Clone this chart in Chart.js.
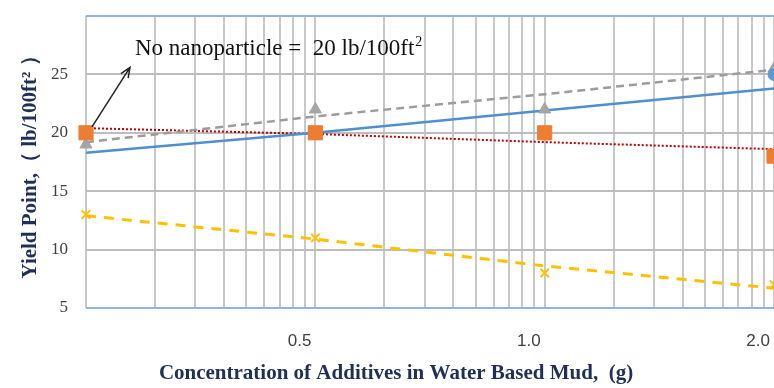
<!DOCTYPE html>
<html>
<head>
<meta charset="utf-8">
<script src="https://cdn.jsdelivr.net/npm/chart.js@4"></script>
<style>
    html, body { margin: 0; padding: 0; background: white; }
    #box { width: 774px; height: 388px; }
</style>
</head>
<body>
<div id="box"><canvas id="yield-chart"></canvas></div>
<script>
const concentrations = ['0', '0.5', '1.0', '2.0']

// markers
const blueCircles = [20, 20, 20, 25]
const orangeSquares = [20, 20, 20, 18]
const grayTriangles = [19, 22, 22, 25.5]
const yellowCrosses = [13, 11, 8, 7]

// trend lines
const trendBlue = [18.3, 20.0, 21.9, 23.8]
const trendGray = [19.2, 21.4, 23.3, 25.4]
const trendRed = [20.4, 19.9, 19.2, 18.6]
const trendYellow = [12.9, 10.9, 8.6, 6.7]

const yTicks = [5, 10, 15, 20, 25, 30]

const serif = "'Liberation Serif', 'Times New Roman', serif"
const navy = '#1F2F57'
const xTitle = 'Concentration of Additives in Water Based Mud,  (g)'

// log style grid lines 1..1000
const gridValues = []
for (let d = 1; d < 1000; d *= 10) {
    for (let m = 1; m < 10; m++) gridValues.push(m * d)
}
gridValues.push(1000)

const noteArrow = {
    id: 'noteArrow',
    afterDraw(chart) {
        const ctx = chart.ctx
        const x = chart.scales.x
        const y = chart.scales.y
        const x0 = x.getPixelForValue(0)
        const y0 = y.getPixelForValue(20)
        const tx = x0 + 6, ty = y0 - 6
        const hx = x0 + 44, hy = y.getPixelForValue(25.6)
        ctx.save()
        ctx.strokeStyle = '#222'
        ctx.lineWidth = 1.5
        ctx.beginPath()
        ctx.moveTo(tx, ty)
        ctx.lineTo(hx, hy)
        const a = Math.atan2(hy - ty, hx - tx)
        ctx.moveTo(hx - 11 * Math.cos(a - 0.4), hy - 11 * Math.sin(a - 0.4))
        ctx.lineTo(hx, hy)
        ctx.lineTo(hx - 11 * Math.cos(a + 0.4), hy - 11 * Math.sin(a + 0.4))
        ctx.stroke()

        ctx.fillStyle = '#111'
        ctx.font = '23px ' + serif
        ctx.textBaseline = 'alphabetic'
        const text = 'No nanoparticle =  20 lb/100ft'
        const bx = x0 + 49, by = y.getPixelForValue(26.7)
        ctx.fillText(text, bx, by)
        const w = ctx.measureText(text).width
        ctx.font = '14px ' + serif
        ctx.fillText('2', bx + w + 1, by - 9)

        // x axis title
        ctx.fillStyle = navy
        ctx.font = 'bold 21px ' + serif
        ctx.textAlign = 'center'
        ctx.textBaseline = 'middle'
        ctx.fillText(xTitle, 396, chart.height - 14)
        ctx.restore()
    }
}

const markers = (label, data, color, style, radius, order) => ({
    label, data, order,
    showLine: false,
    pointStyle: style,
    pointRadius: radius,
    pointBackgroundColor: color,
    pointBorderColor: color,
    pointBorderWidth: style === 'crossRot' ? 2 : 1
})

const trend = (label, data, color, width, dash, order) => ({
    label, data, order,
    borderColor: color,
    borderWidth: width,
    borderDash: dash,
    pointRadius: 0,
    tension: 0
})

new Chart(document.getElementById('yield-chart'), {
    type: 'line',
    data: {
        labels: concentrations,
        datasets: [
            markers('Squares', orangeSquares, '#ED7D31', 'rect', 10, 1),
            markers('Circles', blueCircles, '#5B9BD5', 'circle', 6, 2),
            markers('Triangles', grayTriangles, '#A5A5A5', 'triangle', 7, 3),
            markers('Crosses', yellowCrosses, '#FFC000', 'crossRot', 6, 4),
            trend('Trend 1', trendBlue, '#4F8FD0', 2.5, [], 5),
            trend('Trend 2', trendGray, '#9C9C9C', 2.5, [8, 5], 6),
            trend('Trend 3', trendRed, '#C00000', 2, [2, 2], 7),
            trend('Trend 4', trendYellow, '#FFC000', 3, [10, 8], 8)
        ]
    },
    options: {
        responsive: true,
        maintainAspectRatio: false,
        animation: false,
        clip: false,
        layout: { autoPadding: false, padding: { top: 16, right: 0, left: 0, bottom: 0 } },
        plugins: { legend: { display: false }, tooltip: { enabled: false } },
        scales: {
            x: {
                type: 'category',
                offset: false,
                grid: { display: false, drawTicks: false },
                border: { display: false },
                ticks: {
                    color: '#404040',
                    font: { family: "'Liberation Sans', Arial, sans-serif", size: 17 },
                    padding: 23,
                    align: 'end',
                    labelOffset: -4,
                    callback: (v, i) => i === 0 ? '' : concentrations[i]
                },
                afterFit: scale => {
                    scale.height = 80
                    scale.paddingLeft = 0
                    scale.paddingRight = 0
                }
            },
            xg: {
                type: 'logarithmic',
                position: 'bottom',
                min: 1,
                max: 1000,
                afterBuildTicks: scale => { scale.ticks = gridValues.map(v => ({ value: v })) },
                ticks: { display: false },
                grid: { color: '#C8C8C8', lineWidth: 2, drawTicks: false },
                border: { display: false },
                afterFit: scale => {
                    scale.height = 0
                    scale.paddingLeft = 0
                    scale.paddingRight = 0
                }
            },
            y: {
                min: 5,
                max: 30,
                afterBuildTicks: scale => { scale.ticks = yTicks.map(v => ({ value: v })) },
                grid: {
                    drawTicks: false,
                    lineWidth: 2,
                    color: c => (c.tick.value === 5 || c.tick.value === 30) ? '#8EB4E3' : '#BDBDBD'
                },
                border: { display: false },
                ticks: {
                    color: '#404040',
                    font: { family: serif, size: 17 },
                    padding: 18,
                    callback: v => v === 30 ? '' : v
                },
                title: {
                    display: true,
                    text: 'Yield Point,（ lb/100ft² ）',
                    color: navy,
                    font: { family: serif, size: 21, weight: 'bold' },
                    padding: { top: 18, bottom: 0 }
                },
                afterFit: scale => {
                    scale.width = 86
                    scale.paddingTop = 0
                    scale.paddingBottom = 0
                }
            }
        }
    },
    plugins: [noteArrow]
})
</script>
</body>
</html>
